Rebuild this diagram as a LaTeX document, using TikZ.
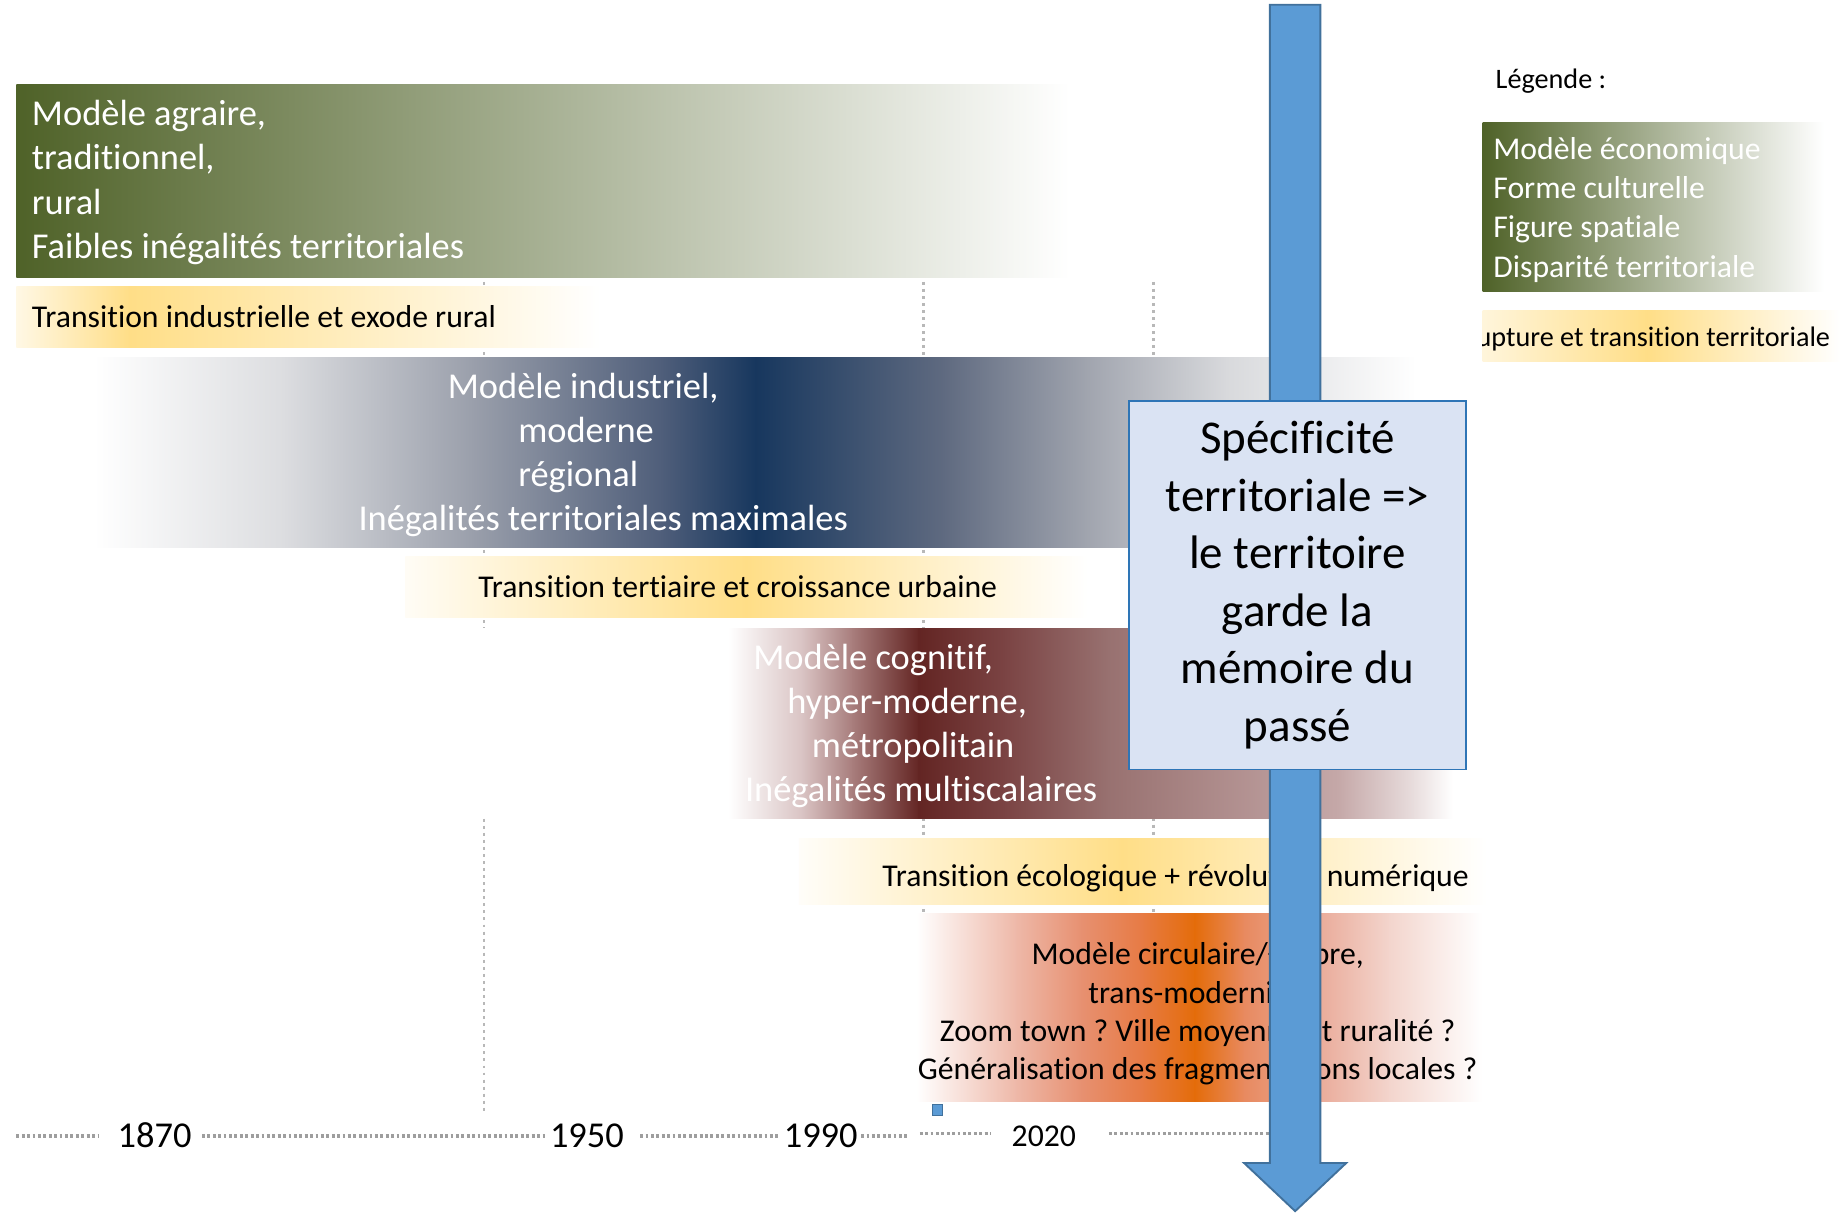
\documentclass[tikz,border=0pt]{standalone}
\usepackage{fontspec}
\setmainfont{Carlito}[Ligatures={NoCommon,NoContextual},Contextuals=NoAlternate]
\frenchspacing
\definecolor{cOlive}{HTML}{4F6228}
\definecolor{cNavy}{HTML}{17375E}
\definecolor{cMaroon}{HTML}{632523}
\definecolor{cOrange}{HTML}{E46C0A}
\definecolor{cGold}{RGB}{255,222,135}
\definecolor{cArrowFill}{HTML}{5B9BD5}
\definecolor{cArrowLine}{HTML}{41719C}
\definecolor{cBoxFill}{HTML}{DAE3F3}
\definecolor{cBoxLine}{HTML}{2E75B6}
\definecolor{cB1}{HTML}{DCDDE0}
\definecolor{cB2}{HTML}{9A9FAB}
\definecolor{cB3}{HTML}{4F5E7A}
\definecolor{cB4}{HTML}{5F6A80}
\definecolor{cB5}{HTML}{A0A4AE}
\definecolor{cB6}{HTML}{D8D9DC}
\definecolor{cR1}{HTML}{D9C3C3}
\definecolor{cR2}{HTML}{A77C7B}
\definecolor{cR3}{HTML}{7B4444}
\definecolor{cR4}{HTML}{987170}
\definecolor{cR5}{HTML}{C5A8A8}
\definecolor{cR6}{HTML}{E9DEDE}
\definecolor{cO1}{HTML}{EEB8A8}
\definecolor{cO2}{HTML}{E79070}
\definecolor{cO3}{HTML}{E77B45}
\definecolor{cO4}{HTML}{E88A60}
\definecolor{cO5}{HTML}{EBB0A0}
\definecolor{cO6}{HTML}{F3D5CD}
\newcommand\gseg[6]{\shade[left color=#5,right color=#6] (#1,#3) rectangle (#2+0.7,#4);}
\begin{document}
\begin{tikzpicture}[x=1pt,y=-1pt,
  vline/.style={draw=black!28, line width=2.3pt, dash pattern=on 2.5pt off 3.5pt},
  tline/.style={draw=black!38, line width=2.6pt, dash pattern=on 2.4pt off 2.2pt},
  wtxt/.style={text=white, inner sep=0pt, anchor=base west},
  btxt/.style={text=black, inner sep=0pt, anchor=base west},
  bigf/.style={font=\fontsize{31}{37.7}\selectfont},
  midf/.style={font=\fontsize{27}{33}\selectfont},
  smallf/.style={font=\fontsize{24}{29}\selectfont},
  arrowst/.style={fill=cArrowFill, draw=cArrowLine, line width=1.6pt, line join=miter},
  memobox/.style={rectangle, fill=cBoxFill, draw=cBoxLine, line width=1.6pt,
    minimum width=287pt, minimum height=314pt, inner sep=0pt, align=center,
    font=\fontsize{40}{49}\selectfont}]
\useasboundingbox (0,0) rectangle (1568,1032);
\fill[white] (0,0) rectangle (1568,1032);

% vertical dotted guides (behind bands)
\draw[vline] (412,240) -- (412,535);
\draw[vline] (412,697) -- (412,948);
\draw[vline] (786,240) -- (786,778);
\draw[vline] (982,240) -- (982,778);

% green band
\gseg{14}{910}{72}{236}{cOlive}{white}
% yellow band 1
\gseg{14}{110}{244}{296}{cGold!22!white}{cGold}
\gseg{110}{510}{244}{296}{cGold}{white}
% blue band
\gseg{80}{241}{304}{466}{white}{cB1}
\gseg{241}{402}{304}{466}{cB1}{cB2}
\gseg{402}{563}{304}{466}{cB2}{cB3}
\gseg{563}{643}{304}{466}{cB3}{cNavy}
\gseg{643}{803}{304}{466}{cNavy}{cB4}
\gseg{803}{924}{304}{466}{cB4}{cB5}
\gseg{924}{1044}{304}{466}{cB5}{cB6}
\gseg{1044}{1205}{304}{466}{cB6}{white}
% yellow band 2
\gseg{345}{635}{474}{526}{cGold!8!white}{cGold}
\gseg{635}{925}{474}{526}{cGold}{white}
% red band
\gseg{620}{683}{535}{697}{white}{cR1}
\gseg{683}{726}{535}{697}{cR1}{cR2}
\gseg{726}{782}{535}{697}{cR2}{cMaroon}
\gseg{782}{856}{535}{697}{cMaroon}{cR3}
\gseg{856}{943}{535}{697}{cR3}{cR4}
\gseg{943}{1139}{535}{697}{cR4}{cR5}
\gseg{1139}{1204}{535}{697}{cR5}{cR6}
\gseg{1204}{1236}{535}{697}{cR6}{white}
% yellow band 3
\gseg{680}{955}{714}{770}{cGold!5!white}{cGold}
\gseg{955}{1265}{714}{770}{cGold}{white}
% orange band
\gseg{780}{865}{778}{938}{white}{cO1}
\gseg{865}{921}{778}{938}{cO1}{cO2}
\gseg{921}{971}{778}{938}{cO2}{cO3}
\gseg{971}{1017}{778}{938}{cO3}{cOrange}
\gseg{1017}{1059}{778}{938}{cOrange}{cO4}
\gseg{1059}{1130}{778}{938}{cO4}{cO5}
\gseg{1130}{1183}{778}{938}{cO5}{cO6}
\gseg{1183}{1261}{778}{938}{cO6}{white}
% legend bands
\gseg{1262}{1552}{104}{248}{cOlive}{white}
\gseg{1262}{1402}{264}{308}{cGold!30!white}{cGold}
\gseg{1402}{1566}{264}{308}{cGold}{white}

% texts: green band
\node[wtxt,bigf] (g1) at (27,107) {Modèle agraire,};
\node[wtxt,bigf] (g2) at (27,144.7) {traditionnel,};
\node[wtxt,bigf] (g3) at (27,182.4) {rural};
\node[wtxt,bigf] (g4) at (27,220) {Faibles inégalités territoriales};
% yellow 1
\node[btxt,midf] (t1) at (27,279) {Transition industrielle et exode rural};
% blue band
\node[wtxt,bigf] (b1) at (381,339) {Modèle industriel,};
\node[wtxt,bigf] (b2) at (441,376.5) {moderne};
\node[wtxt,bigf] (b3) at (441,414) {régional};
\node[wtxt,bigf] (b4) at (305,451.5) {Inégalités territoriales maximales};
% yellow 2
\node[btxt,midf] (t2) at (407,509) {Transition tertiaire et croissance urbaine};
% red band
\node[wtxt,bigf] (r1) at (641,570) {Modèle cognitif,};
\node[wtxt,bigf] (r2) at (670,607.5) {hyper-moderne,};
\node[wtxt,bigf] (r3) at (691,645) {métropolitain};
\node[wtxt,bigf] (r4) at (634,682.5) {Inégalités multiscalaires};
% yellow 3
\node[btxt,midf] (t3) at (751,755) {Transition écologique + révolution numérique};
% orange band
\node[btxt,midf,anchor=base] (o1) at (1019.5,821) {Modèle circulaire/+sobre,};
\node[btxt,midf,anchor=base] (o2) at (1019.5,854) {trans-modernité,};
\node[btxt,midf,anchor=base] (o3) at (1019.5,886.5) {Zoom town ? Ville moyenne et ruralité ?};
\node[btxt,midf,anchor=base] (o4) at (1019.5,919) {Généralisation des fragmentations locales ?};

% legend
\node[btxt,smallf] (leg) at (1273,75) {Légende :};
\node[wtxt,midf] (l1) at (1271,135.5) {Modèle économique};
\node[wtxt,midf] (l2) at (1271,169) {Forme culturelle};
\node[wtxt,midf] (l3) at (1271,202.5) {Figure spatiale};
\node[wtxt,midf] (l4) at (1271,236) {Disparité territoriale};
\begin{scope}
  \clip (1262,250) rectangle (1568,320);
  \node[btxt,smallf,anchor=base east] (l5) at (1558,295) {rupture et transition territoriale};
\end{scope}

% timeline
\draw[tline] (14,967) -- (84,967);
\draw[tline] (172,967) -- (465,967);
\draw[tline] (545,967) -- (662,967);
\draw[tline] (733,967) -- (773,967);
\draw[tline] (783,965) -- (843,965);
\draw[tline] (944,965) -- (1082,965);
\node[btxt,bigf] (y1870) at (100,977) {1870};
\node[btxt,bigf] (y1950) at (468,977) {1950};
\node[btxt,bigf] (y1990) at (667,977) {1990};
\node[btxt,midf] (y2020) at (861,976) {2020};
\node[rectangle, fill=cArrowFill, draw=cArrowLine, line width=1pt,
  minimum width=8pt, minimum height=9pt, inner sep=0pt] (sq) at (798,945) {};

% big arrow
\draw[arrowst] (1081,4) -- (1124,4) -- (1124,990) -- (1146,990) -- (1102.5,1031)
  -- (1059,990) -- (1081,990) -- cycle;

% memo box
\node[memobox] (memo) at (1104.5,498) {Spécificité\\territoriale =>\\le territoire\\garde la\\mémoire du\\passé};
\end{tikzpicture}
\end{document}
